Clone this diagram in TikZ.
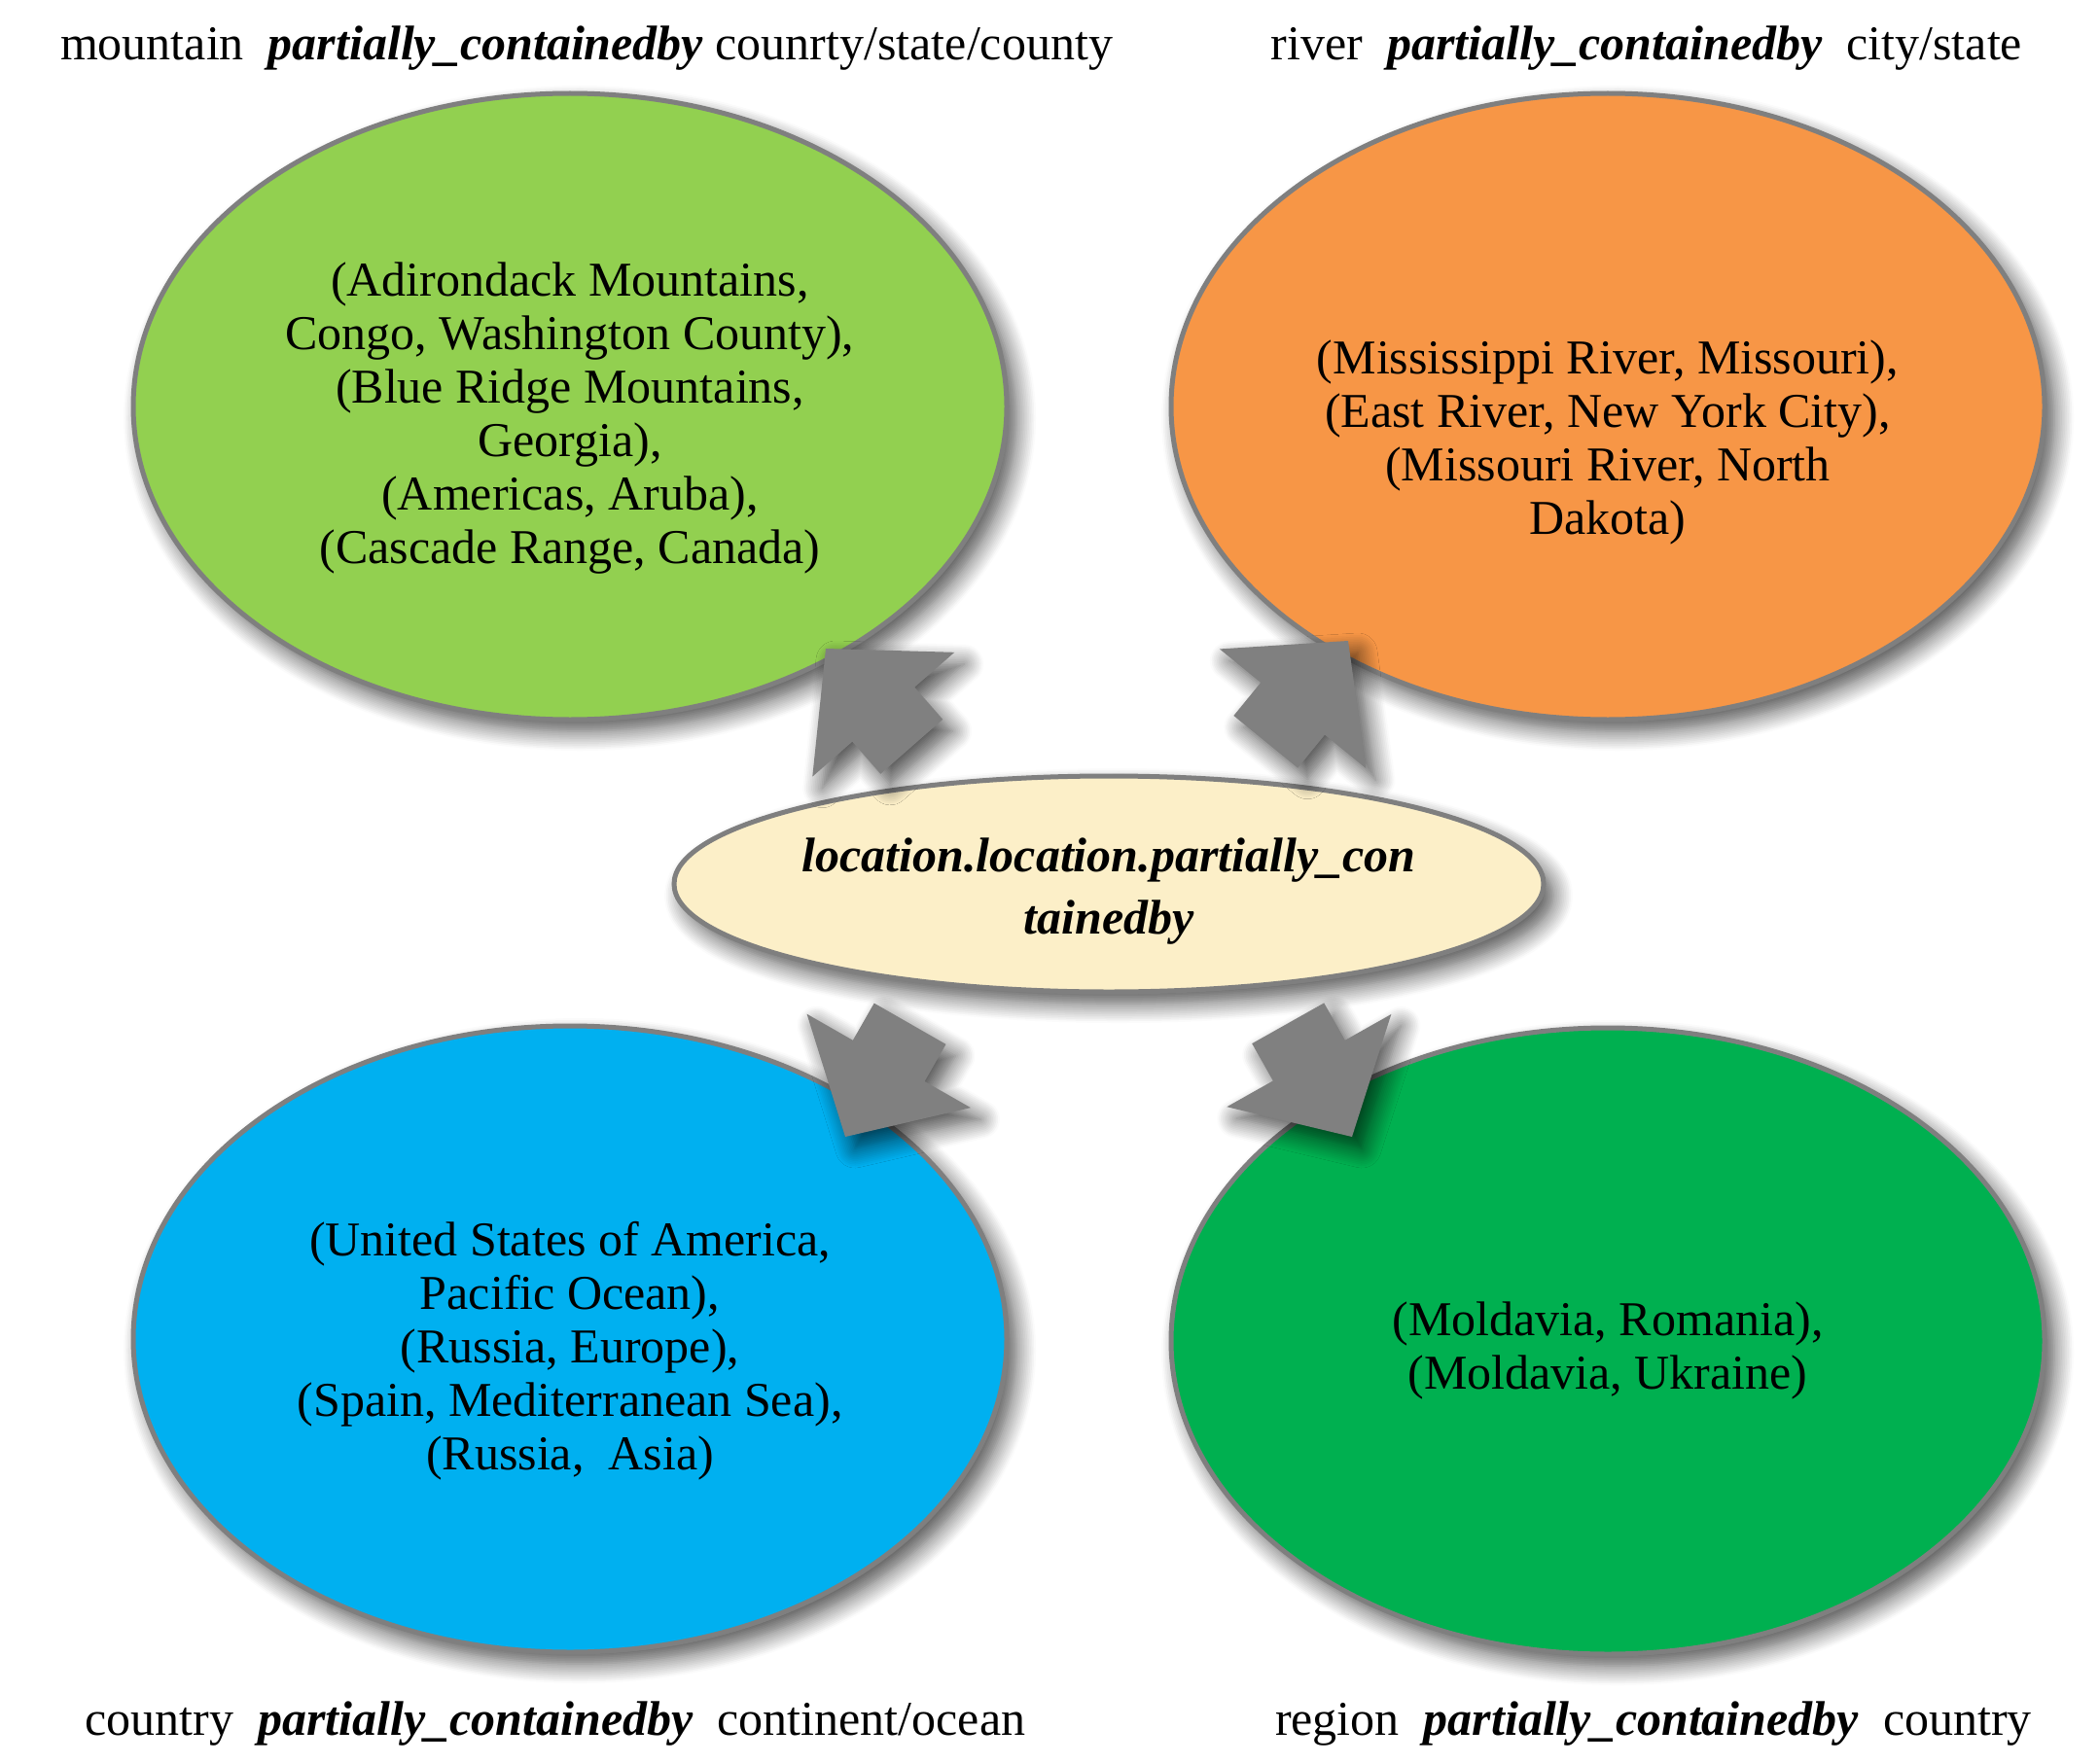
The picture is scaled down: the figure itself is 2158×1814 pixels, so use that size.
\documentclass[tikz,border=0pt]{standalone}
\usepackage{fontspec}
\setmainfont{Liberation Serif}
\usetikzlibrary{shapes.geometric,shadows.blur,calc}
\definecolor{lgreen}{HTML}{92D050}
\definecolor{orng}{HTML}{F79646}
\definecolor{sky}{HTML}{00B0F0}
\definecolor{dgreen}{HTML}{00B050}
\definecolor{cream}{HTML}{FCEFC8}
\definecolor{edgegray}{HTML}{7F7F7F}
\definecolor{arrowgray}{HTML}{808080}
\tikzset{
  softshadow/.style={blur shadow={shadow xshift=10pt, shadow yshift=-12pt, shadow blur radius=20pt, shadow blur steps=12, shadow opacity=70}},
  blob/.style={ellipse, draw=edgegray, line width=5pt, inner sep=0pt, minimum width=898pt, minimum height=644pt, softshadow},
  core/.style={ellipse, draw=edgegray, line width=5pt, inner sep=0pt, minimum width=894pt, minimum height=222pt, fill=cream, softshadow},
  coretxt/.style={align=center, inner sep=0pt, font=\fontsize{50}{64}\selectfont\bfseries\itshape},
  inner/.style={align=center, inner sep=0pt, font=\fontsize{50}{55}\selectfont},
  lbl/.style={inner sep=0pt, font=\fontsize{50}{60}\selectfont},
  arrowfill/.style={fill=arrowgray, softshadow}
}
\newcommand{\fatarr}[2]{%
 \fill[arrowfill] (#1)
   -- ($(#1)+(#2+180:90pt)+(#2+90:97pt)$)
   -- ($(#1)+(#2+180:90pt)+(#2+90:42.5pt)$)
   -- ($(#1)+(#2+180:134pt)+(#2+90:42.5pt)$)
   -- ($(#1)+(#2+180:134pt)+(#2-90:42.5pt)$)
   -- ($(#1)+(#2+180:90pt)+(#2-90:42.5pt)$)
   -- ($(#1)+(#2+180:90pt)+(#2-90:97pt)$) -- cycle;}
\begin{document}
\begin{tikzpicture}[x=1pt,y=-1pt]
\useasboundingbox (0,0) rectangle (2158,1814);

% labels
\node[lbl] (l1) at (603,50) {mountain\ \ \textbf{\textit{partially\_containedby}} counrty/state/county};
\node[lbl] (l2) at (1693,50) {river\ \ \textbf{\textit{partially\_containedby}}\ \ city/state};
\node[lbl] (l3) at (571,1773) {country\ \ \textbf{\textit{partially\_containedby}}\ \ continent/ocean};
\node[lbl] (l4) at (1700,1773) {region\ \ \textbf{\textit{partially\_containedby}}\ \ country};

% ellipses
\node[blob, fill=lgreen] (mt) at (586,418) {};
\node[blob, fill=orng] (rv) at (1653,418) {};
\node[blob, fill=sky] (ct) at (586,1377) {};
\node[blob, fill=dgreen] (rg) at (1653,1379) {};
\node[core] (ctr) at (1140,909) {};
\node[coretxt] (ctrt) at (1140,917) {location.location.partially\_con\\tainedby};

% texts
\node[inner] (mtt) at (586,430) {(Adirondack Mountains,\\Congo, Washington County),\\(Blue Ridge Mountains,\\Georgia),\\ (Americas, Aruba),\\(Cascade Range, Canada)};
\node[inner] (rvt) at (1653,455) {(Mississippi River, Missouri),\\ (East River, New York City),\\(Missouri River, North\\Dakota)};
\node[inner] (ctt) at (586,1389) {(United States of America,\\Pacific Ocean),\\(Russia, Europe),\\(Spain, Mediterranean Sea),\\(Russia,\ \ Asia)};
\node[inner] (rgt) at (1653,1389) {(Moldavia, Romania),\\(Moldavia, Ukraine)};

% arrows (tips)
\coordinate (tl) at (849,667);
\coordinate (tr) at (1386,659);
\coordinate (bl) at (869,1169);
\coordinate (br) at (1390,1169);
\fatarr{tl}{131.2}
\fatarr{tr}{50.8}
\fatarr{bl}{240.2}
\fatarr{br}{299.4}
\end{tikzpicture}
\end{document}
